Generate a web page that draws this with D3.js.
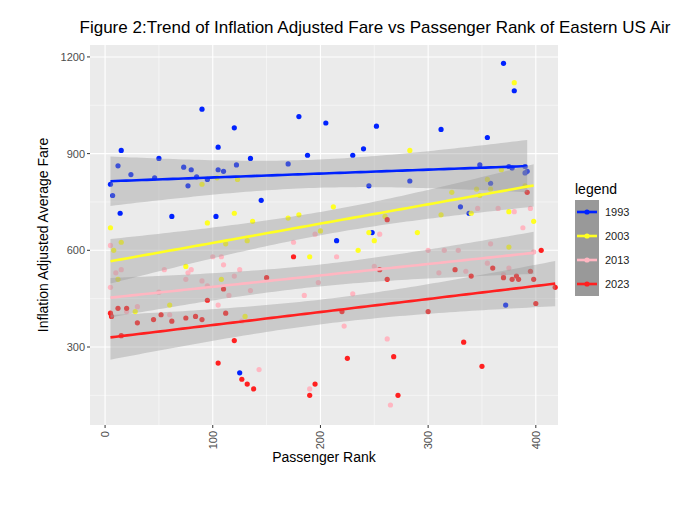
<!DOCTYPE html>
<html><head><meta charset="utf-8">
<script src="https://cdn.jsdelivr.net/npm/d3@7"></script>
<style>body{margin:0;background:#fff;font-family:"Liberation Sans",Arial,sans-serif}</style>
</head><body><svg id="c" width="699" height="509"></svg>
<script>
const years = ["1993", "2003", "2013", "2023"];
const colors = { "1993": "#0022ff", "2003": "#ffff22", "2013": "#ffb6c1", "2023": "#ff2020" };
const pts1993 = [[5,805],[7,770],[12,862],[15,910],[14,715],[24,835],[46,825],[50,885],[62,705],[73,858],[77,800],[80,850],[85,828],[90,1038],[95,820],[103,705],[105,920],[105,850],[110,845],[120,980],[122,865],[125,220],[135,885],[145,755],[170,868],[180,1015],[188,895],[205,995],[215,630],[230,895],[240,915],[245,800],[248,655],[252,985],[312,975],[283,815],[330,735],[338,715],[348,865],[355,950],[358,808],[370,1180],[372,430],[375,860],[380,1095],[390,860],[378,855],[390,840],[392,845]];
const pts2003 = [[5,670],[8,600],[15,625],[12,510],[28,410],[60,430],[75,550],[95,685],[90,805],[104,825],[108,510],[112,620],[120,715],[123,820],[130,395],[132,630],[137,690],[170,700],[180,710],[190,580],[200,660],[212,735],[235,600],[245,655],[250,630],[260,705],[283,910],[290,655],[312,710],[322,780],[340,715],[345,790],[348,770],[355,820],[358,790],[368,850],[375,720],[380,1120],[375,610],[398,690],[390,800]];
const pts2013 = [[5,615],[5,485],[10,530],[15,540],[20,410],[30,425],[50,470],[55,540],[60,400],[75,510],[77,530],[80,540],[90,505],[95,490],[100,580],[105,430],[108,580],[110,555],[115,460],[120,520],[125,540],[127,380],[135,475],[143,230],[175,625],[185,460],[195,650],[198,500],[215,580],[222,365],[230,465],[250,550],[255,650],[262,325],[265,120],[300,600],[310,530],[315,600],[328,600],[335,535],[346,730],[355,560],[358,620],[365,730],[370,525],[375,545],[380,720],[388,670],[395,730],[398,595],[190,170]];
const pts2023 = [[5,405],[6,395],[12,420],[15,335],[20,420],[30,375],[45,385],[52,400],[62,380],[75,390],[84,395],[90,385],[95,445],[105,250],[110,480],[112,405],[120,320],[127,200],[132,185],[138,170],[150,515],[175,580],[190,150],[195,185],[220,410],[225,265],[255,540],[262,510],[262,695],[268,270],[272,150],[300,410],[325,540],[333,315],[340,520],[350,240],[360,545],[370,515],[378,510],[382,520],[384,510],[392,780],[395,535],[398,510],[400,435],[405,600],[418,485]];
const series = { "1993": pts1993, "2003": pts2003, "2013": pts2013, "2023": pts2023 };
const xTicks = [0, 100, 200, 300, 400];
const yTicks = [300, 600, 900, 1200];

const svg = d3.select("#c");
const L = 90, R = 558, T = 45, B = 425;
const x = d3.scaleLinear().domain([-14, 420.6]).range([L, R]);
const y = d3.scaleLinear().domain([58, 1237]).range([B, T]);

svg.append("rect").attr("x", L).attr("y", T).attr("width", R - L).attr("height", B - T).attr("fill", "#ebebeb");
const g = svg.append("g");
[50,150,250,350].forEach(v => g.append("line").attr("x1", x(v)).attr("x2", x(v)).attr("y1", T).attr("y2", B).attr("stroke", "#fff").attr("stroke-width", 0.5));
[150,450,750,1050].forEach(v => g.append("line").attr("y1", y(v)).attr("y2", y(v)).attr("x1", L).attr("x2", R).attr("stroke", "#fff").attr("stroke-width", 0.5));
xTicks.forEach(v => g.append("line").attr("x1", x(v)).attr("x2", x(v)).attr("y1", T).attr("y2", B).attr("stroke", "#fff").attr("stroke-width", 1.1));
yTicks.forEach(v => g.append("line").attr("y1", y(v)).attr("y2", y(v)).attr("x1", L).attr("x2", R).attr("stroke", "#fff").attr("stroke-width", 1.1));

// points
years.forEach(yr => {
  svg.append("g").selectAll("circle").data(series[yr]).join("circle")
    .attr("cx", d => x(d[0])).attr("cy", d => y(d[1])).attr("r", 2.6).attr("fill", colors[yr]);
});

// linear fits with 95% band
function fit(p) {
  const n = p.length, mx = d3.mean(p, d => d[0]), my = d3.mean(p, d => d[1]);
  const sxx = d3.sum(p, d => (d[0] - mx) ** 2);
  const b = d3.sum(p, d => (d[0] - mx) * (d[1] - my)) / sxx, a = my - b * mx;
  const s = Math.sqrt(d3.sum(p, d => (d[1] - a - b * d[0]) ** 2) / (n - 2));
  const [x0, x1] = d3.extent(p, d => d[0]);
  const rows = d3.range(0, 81).map(i => {
    const xv = x0 + (x1 - x0) * i / 80, se = s * Math.sqrt(1 / n + (xv - mx) ** 2 / sxx);
    return { x: xv, y: a + b * xv, lo: a + b * xv - 2.01 * se, hi: a + b * xv + 2.01 * se };
  });
  return rows;
}
years.forEach(yr => {
  const rows = fit(series[yr]);
  svg.append("path").datum(rows).attr("fill", "#999").attr("fill-opacity", 0.4)
    .attr("d", d3.area().x(d => x(d.x)).y0(d => y(d.lo)).y1(d => y(d.hi)));
  svg.append("path").datum(rows).attr("fill", "none").attr("stroke", colors[yr]).attr("stroke-width", 2.6)
    .attr("d", d3.line().x(d => x(d.x)).y(d => y(d.y)));
});

// axes
const ax = svg.append("g").attr("font-size", 11).attr("fill", "#4d4d4d");
xTicks.forEach(v => {
  ax.append("line").attr("x1", x(v)).attr("x2", x(v)).attr("y1", B).attr("y2", B + 3).attr("stroke", "#333");
  ax.append("text").attr("transform", `translate(${x(v) + 4},${B + 6}) rotate(-90)`).attr("text-anchor", "end").text(v);
});
yTicks.forEach(v => {
  ax.append("line").attr("x1", L - 3).attr("x2", L).attr("y1", y(v)).attr("y2", y(v)).attr("stroke", "#333");
  ax.append("text").attr("x", L - 5).attr("y", y(v) + 4).attr("text-anchor", "end").text(v);
});
svg.append("text").attr("x", (L + R) / 2).attr("y", 462).attr("text-anchor", "middle").attr("font-size", 14).text("Passenger Rank");
svg.append("text").attr("transform", `translate(48,${(T + B) / 2}) rotate(-90)`).attr("text-anchor", "middle").attr("font-size", 14).text("Inflation Adjusted Average Fare");
svg.append("text").attr("x", 375).attr("y", 33).attr("text-anchor", "middle").attr("font-size", 17).text("Figure 2:Trend of Inflation Adjusted Fare vs Passenger Rank of Eastern US Air");

// legend
const lg = svg.append("g").attr("transform", "translate(575,0)");
lg.append("text").attr("x", 0).attr("y", 194).attr("font-size", 14).text("legend");
years.forEach((yr, i) => {
  const ky = 200 + i * 24;
  lg.append("rect").attr("x", 0).attr("y", ky).attr("width", 24).attr("height", 24).attr("fill", "#999");
  lg.append("line").attr("x1", 2).attr("x2", 22).attr("y1", ky + 12).attr("y2", ky + 12).attr("stroke", colors[yr]).attr("stroke-width", 2.6);
  lg.append("circle").attr("cx", 12).attr("cy", ky + 12).attr("r", 2.6).attr("fill", colors[yr]);
  lg.append("text").attr("x", 30).attr("y", ky + 16).attr("font-size", 11).attr("fill", "#222").text(yr);
});
</script></body></html>
